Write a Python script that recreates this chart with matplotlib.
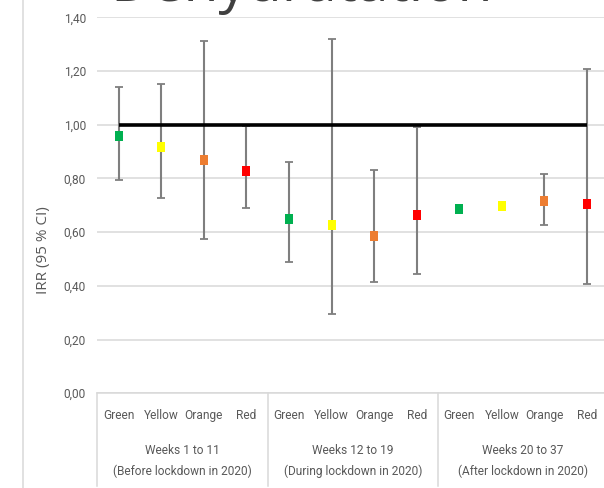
import numpy as np
import matplotlib.pyplot as plt
import matplotlib.transforms as mtransforms
from matplotlib.lines import Line2D

# IRR per alert level and period, with 95 % confidence bounds
levels = ['Green', 'Yellow', 'Orange', 'Red']
level_colors = ['#00B050', '#FFFF00', '#ED7D31', '#FF0000']
periods = ['Weeks 1 to 11', 'Weeks 12 to 19', 'Weeks 20 to 37']
period_notes = ['(Before lockdown in 2020)', '(During lockdown in 2020)',
                '(After lockdown in 2020)']

irr = [0.958, 0.918, 0.869, 0.829,
       0.650, 0.625, 0.587, 0.664,
       0.686, 0.696, 0.717, 0.703]
ci_lower = [0.794, 0.728, 0.573, 0.690,
            0.489, 0.295, 0.414, 0.443,
            np.nan, np.nan, 0.626, 0.407]
ci_upper = [1.141, 1.152, 1.312, 0.995,
            0.861, 1.319, 0.830, 0.993,
            np.nan, np.nan, 0.815, 1.207]

yticks = [0.0, 0.2, 0.4, 0.6, 0.8, 1.0, 1.2, 1.4]
ytick_labels = ['0,00', '0,20', '0,40', '0,60', '0,80', '1,00', '1,20', '1,40']
reference = 1.0

GRID = '#d9d9d9'
TEXT = '#595959'
LABEL_FONT = 'Roboto'
LABEL_SIZE = 8.6

W, H = 604, 488
fig = plt.figure(figsize=(W / 100, H / 100), dpi=100)
ax = fig.add_axes([97.4 / W, (H - 393.2) / H, 510.8 / W, 375.9 / H])

irr = np.array(irr)
lo = np.array(ci_lower)
hi = np.array(ci_upper)
x = np.arange(len(irr))

# confidence intervals
ax.errorbar(x, irr, yerr=[irr - lo, hi - irr], fmt='none', ecolor='#7f7f7f',
            elinewidth=1.5, capsize=2.6, capthick=1.3, zorder=2)

# no-effect line across the categories
ax.plot([x[0], x[-1]], [reference, reference], color='black', lw=2.6,
        solid_capstyle='butt', zorder=3)

# slightly tall square markers, one colour per level
rect = [(-0.39, -0.5), (0.39, -0.5), (0.39, 0.5), (-0.39, 0.5), (-0.39, -0.5)]
for i, color in enumerate(level_colors):
    ax.plot(x[i::4], irr[i::4], linestyle='none', marker=rect, markersize=6.8,
            mfc=color, mec=color, mew=0, zorder=4)

ax.set_xlim(-0.5, len(irr) - 0.5)
ax.set_ylim(0, 1.4)
ax.set_yticks(yticks)
ax.set_yticklabels(ytick_labels, family=LABEL_FONT, fontsize=LABEL_SIZE,
                   color=TEXT)
ax.set_xticks(x)
ax.set_xticklabels(levels * len(periods), family=LABEL_FONT,
                   fontsize=LABEL_SIZE, color=TEXT, va='center')
ax.tick_params(axis='y', length=0, pad=8.2)
ax.tick_params(axis='x', length=0, pad=16.3)

ax.yaxis.grid(True, color=GRID, lw=1.1)
ax.set_axisbelow(True)
for side in ['left', 'right', 'top']:
    ax.spines[side].set_visible(False)
ax.spines['bottom'].set_color(GRID)
ax.spines['bottom'].set_linewidth(1.1)

# period labels and separators below the level names
trans = mtransforms.blended_transform_factory(ax.transData, ax.transAxes)
for k, (period, note) in enumerate(zip(periods, period_notes)):
    mid = 4 * k + 1.5
    ax.annotate(period, (mid, 0), xycoords=trans, xytext=(0, -40.9),
                textcoords='offset points', ha='center', va='center',
                family=LABEL_FONT, fontsize=LABEL_SIZE, color=TEXT)
    ax.annotate(note, (mid, 0), xycoords=trans, xytext=(0, -56.5),
                textcoords='offset points', ha='center', va='center',
                family=LABEL_FONT, fontsize=LABEL_SIZE, color=TEXT)
for edge in np.arange(len(periods) + 1) * 4 - 0.5:
    ax.plot([edge, edge], [0, -0.247], transform=trans, clip_on=False,
            color=GRID, lw=1.1)

fig.text(43 / W, 1 - 250 / H, 'IRR (95 % CI)', rotation=90, ha='center',
         va='center', fontsize=11, color=TEXT, family='Open Sans')

fig.text(0.5, 1 - 1 / H, 'Dehydratation', ha='center', va='baseline',
         fontsize=41, color='#404040', family='Open Sans')

# chart area border on the left
fig.add_artist(Line2D([22.7 / W, 22.7 / W], [0, 1], color=GRID, lw=1.1))

fig.savefig('out.png', dpi=100)
